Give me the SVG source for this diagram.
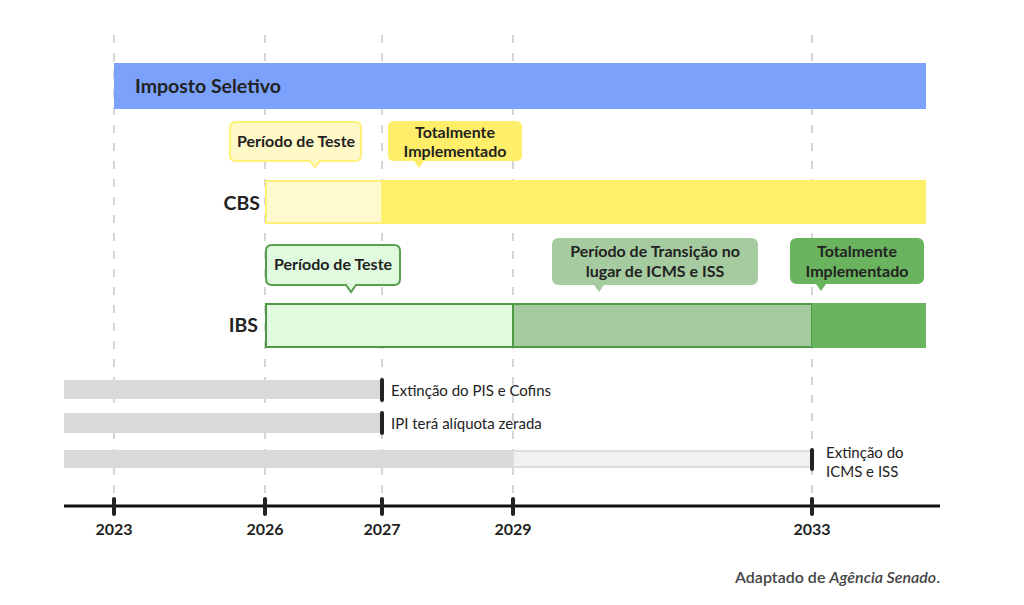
<svg xmlns="http://www.w3.org/2000/svg" width="1024" height="605" viewBox="0 0 1024 605">
<style>
.grid{stroke:#c8c8c8;stroke-width:1.5;stroke-dasharray:8 10;fill:none}
.b{font-family:Lato,"Noto Sans",sans-serif;font-weight:700;fill:#222}
.c{font-family:Lato,"Noto Sans",sans-serif;font-weight:700;font-size:16px;fill:#222;text-anchor:middle}
.r{font-family:Lato,"Noto Sans",sans-serif;font-weight:400;fill:#222}
.yr{font-family:Lato,"Noto Sans",sans-serif;font-weight:700;font-size:16px;fill:#222;text-anchor:middle}
.tick{stroke:#222;stroke-width:4;stroke-linecap:round}
</style>
<rect width="1024" height="605" fill="#ffffff"/>
<g id="grid">
<line class="grid" x1="114" y1="35" x2="114" y2="500"/>
<line class="grid" x1="265" y1="35" x2="265" y2="500"/>
<line class="grid" x1="382" y1="35" x2="382" y2="500"/>
<line class="grid" x1="513" y1="35" x2="513" y2="500"/>
<line class="grid" x1="812" y1="35" x2="812" y2="500"/>
</g>
<g id="imposto-seletivo">
<rect x="114" y="63" width="812" height="46" fill="#7ba1fb"/>
<text class="b" x="135" y="93" font-size="19.5">Imposto Seletivo</text>
</g>
<g id="cbs">
<rect x="266" y="181" width="116" height="42" fill="#fffacd" stroke="#fff07a" stroke-width="2"/>
<rect x="382" y="180" width="544" height="44" fill="#fff06a"/>
<text class="b" x="260" y="210" font-size="19.5" text-anchor="end">CBS</text>
</g>
<g id="cbs-teste-callout">
<path d="M236,122 H355 Q361,122 361,128 V155 Q361,161 355,161 H320 L315,167 L310,161 H236 Q230,161 230,155 V128 Q230,122 236,122 Z" fill="#fff9c8" stroke="#fff07a" stroke-width="2"/>
<text class="c" x="296" y="147">Período de Teste</text>
</g>
<g id="cbs-total-callout">
<path d="M394,121 H516 Q522,121 522,127 V155 Q522,161 516,161 H424 L419,168 L414,161 H394 Q388,161 388,155 V127 Q388,121 394,121 Z" fill="#ffee6a"/>
<text class="c" x="455" y="138">Totalmente</text>
<text class="c" x="455" y="157">Implementado</text>
</g>
<g id="ibs">
<rect x="266" y="304" width="247" height="43" fill="#e0fae0" stroke="#4f9a45" stroke-width="2"/>
<rect x="513" y="304" width="299" height="43" fill="#a6cba0" stroke="#4f9a45" stroke-width="2"/>
<rect x="812" y="303" width="114" height="45" fill="#6ab35f"/>
<text class="b" x="258" y="332" font-size="19.5" text-anchor="end">IBS</text>
</g>
<g id="ibs-teste-callout">
<path d="M272,245 H394 Q400,245 400,251 V279 Q400,285 394,285 H356 L351,292 L346,285 H272 Q266,285 266,279 V251 Q266,245 272,245 Z" fill="#e0fae0" stroke="#5a9e50" stroke-width="2"/>
<text class="c" x="333" y="270">Período de Teste</text>
</g>
<g id="ibs-transicao-callout">
<path d="M559,238 H751 Q758,238 758,245 V278 Q758,285 751,285 H604 L599,292 L594,285 H559 Q552,285 552,278 V245 Q552,238 559,238 Z" fill="#a6cba0"/>
<text class="c" x="655" y="257">Período de Transição no</text>
<text class="c" x="655" y="277">lugar de ICMS e ISS</text>
</g>
<g id="ibs-total-callout">
<path d="M797,238 H917 Q924,238 924,245 V277 Q924,284 917,284 H826 L821,291 L816,284 H797 Q790,284 790,277 V245 Q790,238 797,238 Z" fill="#6ab35f"/>
<text class="c" x="857" y="257">Totalmente</text>
<text class="c" x="857" y="277">Implementado</text>
</g>
<g id="pis-cofins">
<rect x="64" y="380" width="318" height="19" fill="#d9d9d9"/>
<line class="tick" x1="382" y1="380" x2="382" y2="400"/>
<text class="r" x="391" y="396" font-size="15">Extinção do PIS e Cofins</text>
</g>
<g id="ipi">
<rect x="64" y="413" width="318" height="20" fill="#d9d9d9"/>
<line class="tick" x1="382" y1="413" x2="382" y2="433"/>
<text class="r" x="391" y="429" font-size="15">IPI terá alíquota zerada</text>
</g>
<g id="icms-iss">
<rect x="64" y="450" width="449" height="18" fill="#d9d9d9"/>
<rect x="513" y="451" width="299" height="16" fill="#f1f1f1" stroke="#dcdcdc" stroke-width="2"/>
<line class="tick" x1="812" y1="450" x2="812" y2="469"/>
<text class="r" x="826" y="458" font-size="15">Extinção do</text>
<text class="r" x="826" y="477" font-size="15">ICMS e ISS</text>
</g>
<g id="axis">
<line x1="64" y1="506" x2="940" y2="506" stroke="#111" stroke-width="3"/>
<line class="tick" x1="114" y1="499" x2="114" y2="514"/>
<line class="tick" x1="265" y1="499" x2="265" y2="514"/>
<line class="tick" x1="382" y1="499" x2="382" y2="514"/>
<line class="tick" x1="513" y1="499" x2="513" y2="514"/>
<line class="tick" x1="812" y1="499" x2="812" y2="514"/>
<text class="yr" x="114" y="535">2023</text>
<text class="yr" x="265" y="535">2026</text>
<text class="yr" x="382" y="535">2027</text>
<text class="yr" x="513" y="535">2029</text>
<text class="yr" x="812" y="535">2033</text>
</g>
<g id="source">
<text class="r" x="940" y="583" font-size="16" text-anchor="end" style="fill:#444;font-weight:600">Adaptado de <tspan font-style="italic">Agência Senado</tspan>.</text>
</g>
</svg>
